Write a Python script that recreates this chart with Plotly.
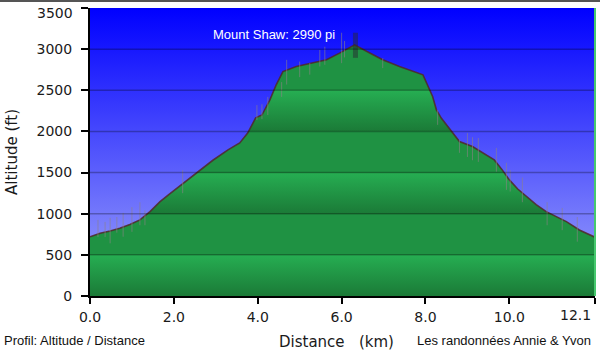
import plotly.graph_objects as go

# ---- data ----
dist_km = [0.00, 0.24, 0.48, 0.71, 0.95, 1.19, 1.43, 1.67, 1.90, 2.14, 2.38, 2.62, 2.93, 3.29,
           3.57, 3.76, 3.95, 4.10, 4.29, 4.44, 4.60, 4.92, 5.30, 5.64, 5.95, 6.31, 6.65, 6.98,
           7.38, 7.94, 8.17, 8.26, 8.38, 8.60, 8.81, 9.12, 9.40, 9.64, 9.83, 10.00, 10.20,
           10.40, 10.64, 10.88, 11.12, 11.36, 11.67, 12.04]
alt_ft = [720, 762, 790, 823, 870, 925, 1025, 1147, 1240, 1335, 1432, 1533, 1650, 1776,
          1860, 1980, 2165, 2200, 2384, 2567, 2728, 2790, 2830, 2871, 2952, 3053, 2960, 2871,
          2790, 2688, 2425, 2263, 2160, 2010, 1877, 1816, 1730, 1654, 1533, 1411, 1300,
          1208, 1110, 1025, 960, 904, 803, 715]

spike_km = [0.19, 0.36, 0.48, 0.64, 0.79, 1.00, 1.19, 1.31, 2.21, 3.98, 4.10, 4.24, 4.57, 4.69,
            5.00, 5.24, 5.48, 5.60, 6.00, 6.07, 6.98, 8.29, 8.81, 9.00, 9.12, 9.26, 9.69, 9.93,
            10.02, 10.31, 10.90, 11.26, 11.62]
spike_lo = [718, 718, 640, 770, 720, 780, 860, 860, 1250, 2140, 2150, 2200, 2420, 2570, 2660,
            2690, 2790, 2810, 2830, 2900, 2770, 2080, 1740, 1690, 1650, 1630, 1510, 1290, 1270,
            1140, 860, 800, 660]
spike_hi = [925, 900, 950, 960, 1010, 1080, 1140, 1040, 1530, 2320, 2330, 2420, 2600, 2870, 2850,
            2830, 2990, 3030, 3200, 3100, 2890, 2260, 1900, 1980, 1930, 1920, 1800, 1620, 1530,
            1440, 1140, 1070, 960]

peak_km = 6.33
peak_bar = [2895, 3200]
peak_label = "Mount Shaw: 2990 pi"
peak_label_pos = (4.38, 3175)

x_max = 12.04
y_max = 3500
x_tickvals = [0, 2, 4, 6, 8, 10, x_max]
x_ticktext = ["0.0", "2.0", "4.0", "6.0", "8.0", "10.0", ""]
x_end_label = "12.1"
y_tickvals = [0, 500, 1000, 1500, 2000, 2500, 3000, 3500]
y_ticktext = ["0", "500", "1000", "1500", "2000", "2500", "3000", ""]
y_end_label = "3500"

# ---- styles ----
TICKFONT = dict(family="DejaVu Sans, Verdana", size=14, color="#1a1a1a")
ARIAL = "Liberation Sans, Arial"

# green banded gradient (alternate bands)
dark = "rgb(27,122,55)"
light = "rgb(38,174,82)"
mid = "rgb(31,146,67)"
green_scale = []
nb = int(y_max / 500)
for k in range(nb):
    a, b = k / nb, (k + 1) / nb
    if k % 2 == 0:
        green_scale += [[a, dark], [b, light]]
    else:
        green_scale += [[a, mid], [b, mid]]

fig = go.Figure()

# background gradient
fig.add_trace(go.Scatter(
    x=[0, x_max, x_max, 0, 0], y=[0, 0, y_max, y_max, 0],
    mode="none", fill="toself",
    fillgradient=dict(type="vertical", start=0, stop=y_max,
                      colorscale=[[0, "rgb(162,168,250)"], [1, "rgb(0,0,255)"]]),
    hoverinfo="skip", showlegend=False))

# profile
fig.add_trace(go.Scatter(
    x=dist_km, y=alt_ft, mode="lines", fill="tozeroy",
    line=dict(color="rgba(80,40,40,0.85)", width=1.6),
    fillgradient=dict(type="vertical", start=0, stop=y_max, colorscale=green_scale),
    showlegend=False))

# spikes
sx, sy = [], []
for xk, lo, hi in zip(spike_km, spike_lo, spike_hi):
    sx += [xk, xk, None]
    sy += [lo, hi, None]
fig.add_trace(go.Scatter(x=sx, y=sy, mode="lines",
                         line=dict(color="rgba(140,130,135,0.6)", width=1),
                         hoverinfo="skip", showlegend=False))

# peak bar
fig.add_trace(go.Scatter(x=[peak_km, peak_km], y=peak_bar, mode="lines",
                         line=dict(color="rgba(40,40,50,0.5)", width=5),
                         hoverinfo="skip", showlegend=False))

# gridlines above traces
for v in y_tickvals[1:-1]:
    fig.add_shape(type="line", xref="x", yref="y", x0=0, x1=x_max, y0=v, y1=v,
                  line=dict(color="rgba(0,0,0,0.28)", width=1.5), layer="above")

# right green edge and top border
fig.add_shape(type="line", xref="paper", yref="paper", x0=1, x1=1, y0=0, y1=1,
              line=dict(color="rgb(70,200,110)", width=2), layer="above")
fig.add_shape(type="line", xref="paper", yref="paper", x0=-0.2, x1=1.02,
              y0=1 + 7 / 288, y1=1 + 7 / 288,
              line=dict(color="#555", width=2), layer="above")

fig.add_annotation(x=peak_label_pos[0], y=peak_label_pos[1], xref="x", yref="y",
                   text=peak_label, showarrow=False,
                   font=dict(family=ARIAL, size=13, color="white"))
fig.add_annotation(x=0.996, y=-0.066, xref="paper", yref="paper", xanchor="right",
                   yanchor="middle", text=x_end_label, showarrow=False, font=TICKFONT)
fig.add_annotation(x=-0.03, y=0.982, xref="paper", yref="paper", xanchor="right",
                   yanchor="middle", text=y_end_label, showarrow=False, font=TICKFONT)
fig.add_annotation(x=0.488, y=-0.16, xref="paper", yref="paper", xanchor="center",
                   yanchor="middle",
                   text="Distance&nbsp;&nbsp;&nbsp;(km)", showarrow=False,
                   font=dict(family="DejaVu Sans, Verdana", size=15, color="#1a1a1a"))
fig.add_annotation(x=-0.1545, y=0.5, xref="paper", yref="paper", textangle=-90,
                   xanchor="center", yanchor="middle",
                   text="Altitude (ft)", showarrow=False,
                   font=dict(family="DejaVu Sans, Verdana", size=15, color="#1a1a1a"))
fig.add_annotation(x=-0.174, y=-0.156, xref="paper", yref="paper", xanchor="left",
                   yanchor="middle",
                   text="Profil: Altitude / Distance", showarrow=False,
                   font=dict(family=ARIAL, size=13, color="#111"))
fig.add_annotation(x=0.996, y=-0.156, xref="paper", yref="paper", xanchor="right",
                   yanchor="middle",
                   text="Les randonnées Annie & Yvon", showarrow=False,
                   font=dict(family=ARIAL, size=13, color="#111"))

fig.update_layout(
    width=600, height=354,
    margin=dict(l=90, r=5, t=8, b=58, autoexpand=False),
    paper_bgcolor="white", plot_bgcolor="white",
    xaxis=dict(range=[0, x_max + 0.002], tickvals=x_tickvals, ticktext=x_ticktext,
               showline=True, linecolor="black", linewidth=2, ticks="outside",
               ticklen=6, tickwidth=2, tickcolor="black", showgrid=False, zeroline=False,
               tickfont=TICKFONT, ticklabelstandoff=1, layer="above traces",
               automargin=False),
    yaxis=dict(range=[0, y_max + 0.5], tickvals=y_tickvals, ticktext=y_ticktext,
               showline=True, linecolor="black", linewidth=2, ticks="outside",
               ticklen=7, tickwidth=2, tickcolor="black", showgrid=False, zeroline=False,
               tickfont=TICKFONT, ticklabelstandoff=6, layer="above traces",
               automargin=False),
)

fig.write_html("out.html")
